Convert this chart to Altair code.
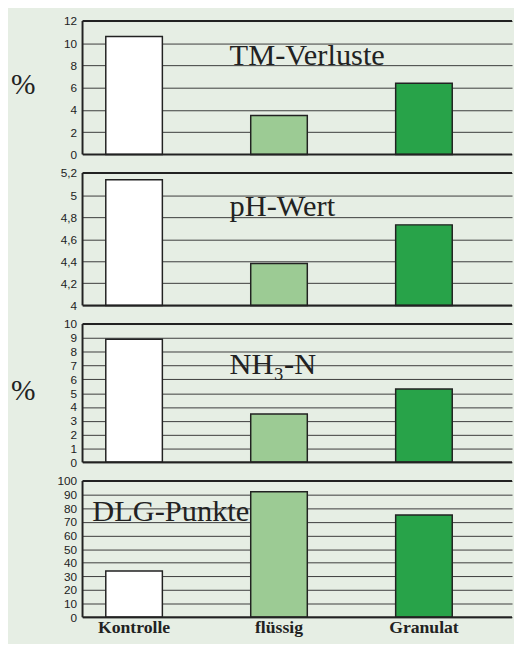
import altair as alt
import pandas as pd

categories = ["Kontrolle", "flüssig", "Granulat"]
bar_colors = ["#ffffff", "#9ccb94", "#28a349"]

tm_values = [10.6, 3.5, 6.4]
ph_values = [5.14, 4.38, 4.73]
nh3_values = [8.9, 3.5, 5.3]
dlg_values = [34, 92, 75]

tm_ticks = [0, 2, 4, 6, 8, 10, 12]
ph_ticks = [4.0, 4.2, 4.4, 4.6, 4.8, 5.0, 5.2]
nh3_ticks = [0, 1, 2, 3, 4, 5, 6, 7, 8, 9, 10]
dlg_ticks = [0, 10, 20, 30, 40, 50, 60, 70, 80, 90, 100]

panel_titles = ["TM-Verluste", "pH-Wert", "NH₃-N", "DLG-Punkte"]

W = 438
BG = "#e6eee4"
INK = "#222222"


def panel(values, ticks, label, lx, ly, pct, show_x, h):
    lo, hi = ticks[0], ticks[-1]
    df = pd.DataFrame({"Gruppe": categories, "Wert": values, "Basis": [lo] * len(values)})
    if show_x:
        xaxis = alt.Axis(title=None, labelAngle=0, domain=False, ticks=False,
                         labelFont="Liberation Serif", labelFontWeight="bold",
                         labelFontSize=18, labelColor=INK, labelPadding=2)
    else:
        xaxis = None
    ykw = dict(values=ticks, grid=True, gridColor="#3a3a3a", gridWidth=1,
               domain=False, ticks=False, labelFont="Liberation Sans",
               labelFontSize=12, labelColor=INK, labelPadding=6,
               labelExpr="replace(toString(datum.value), '.', ',')")
    if pct:
        yaxis = alt.Axis(title="%", titleAngle=0, titleFont="Liberation Serif",
                         titleFontSize=30, titleFontWeight="normal", titleColor=INK,
                         titleX=-61, titleY=h / 2 - 3, titleAlign="center",
                         titleBaseline="middle", **ykw)
    else:
        yaxis = alt.Axis(title=None, **ykw)
    bars = alt.Chart(df).mark_bar(stroke=INK, strokeWidth=1.5).encode(
        x=alt.X("Gruppe:N", sort=categories,
                scale=alt.Scale(domain=categories, paddingInner=0.6096,
                                paddingOuter=0.2865, align=0.280),
                axis=xaxis),
        y=alt.Y("Wert:Q", scale=alt.Scale(domain=[lo, hi], nice=False, zero=False),
                axis=yaxis),
        y2="Basis:Q",
        color=alt.Color("Gruppe:N", scale=alt.Scale(domain=categories, range=bar_colors),
                        legend=None),
    )
    one = pd.DataFrame({"k": [0]})
    frame_top = alt.Chart(one).mark_rule(color=INK, strokeWidth=2).encode(
        x=alt.value(0), x2=alt.value(W), y=alt.value(0))
    frame_bottom = alt.Chart(one).mark_rule(color=INK, strokeWidth=2).encode(
        x=alt.value(0), x2=alt.value(W), y=alt.value(h))
    frame_left = alt.Chart(one).mark_rule(color=INK, strokeWidth=2).encode(
        x=alt.value(0), y=alt.value(0), y2=alt.value(h))
    txt = alt.Chart(pd.DataFrame({"t": [label]})).mark_text(
        font="Liberation Serif", fontSize=31, color=INK, align="left",
        baseline="alphabetic").encode(
        text="t:N", x=alt.value(lx), y=alt.value(ly))
    return alt.layer(bars, frame_top, frame_bottom, frame_left, txt).properties(
        width=W, height=h)


p1 = panel(tm_values, tm_ticks, panel_titles[0], 150, 45, True, False, 136)
p2 = panel(ph_values, ph_ticks, panel_titles[1], 150, 44, False, False, 135)
p3 = panel(nh3_values, nh3_ticks, panel_titles[2], 150, 51, True, False, 141)
p4 = panel(dlg_values, dlg_ticks, panel_titles[3], 10, 41, False, True, 139)

chart = alt.vconcat(p1, p2, p3, p4, spacing=5).properties(
    background=BG,
    padding={"left": 2, "top": 0, "right": 0, "bottom": 0},
).configure_view(stroke="transparent", fill=None)

chart.save("out.html", embed_options={"renderer": "svg", "actions": False})
